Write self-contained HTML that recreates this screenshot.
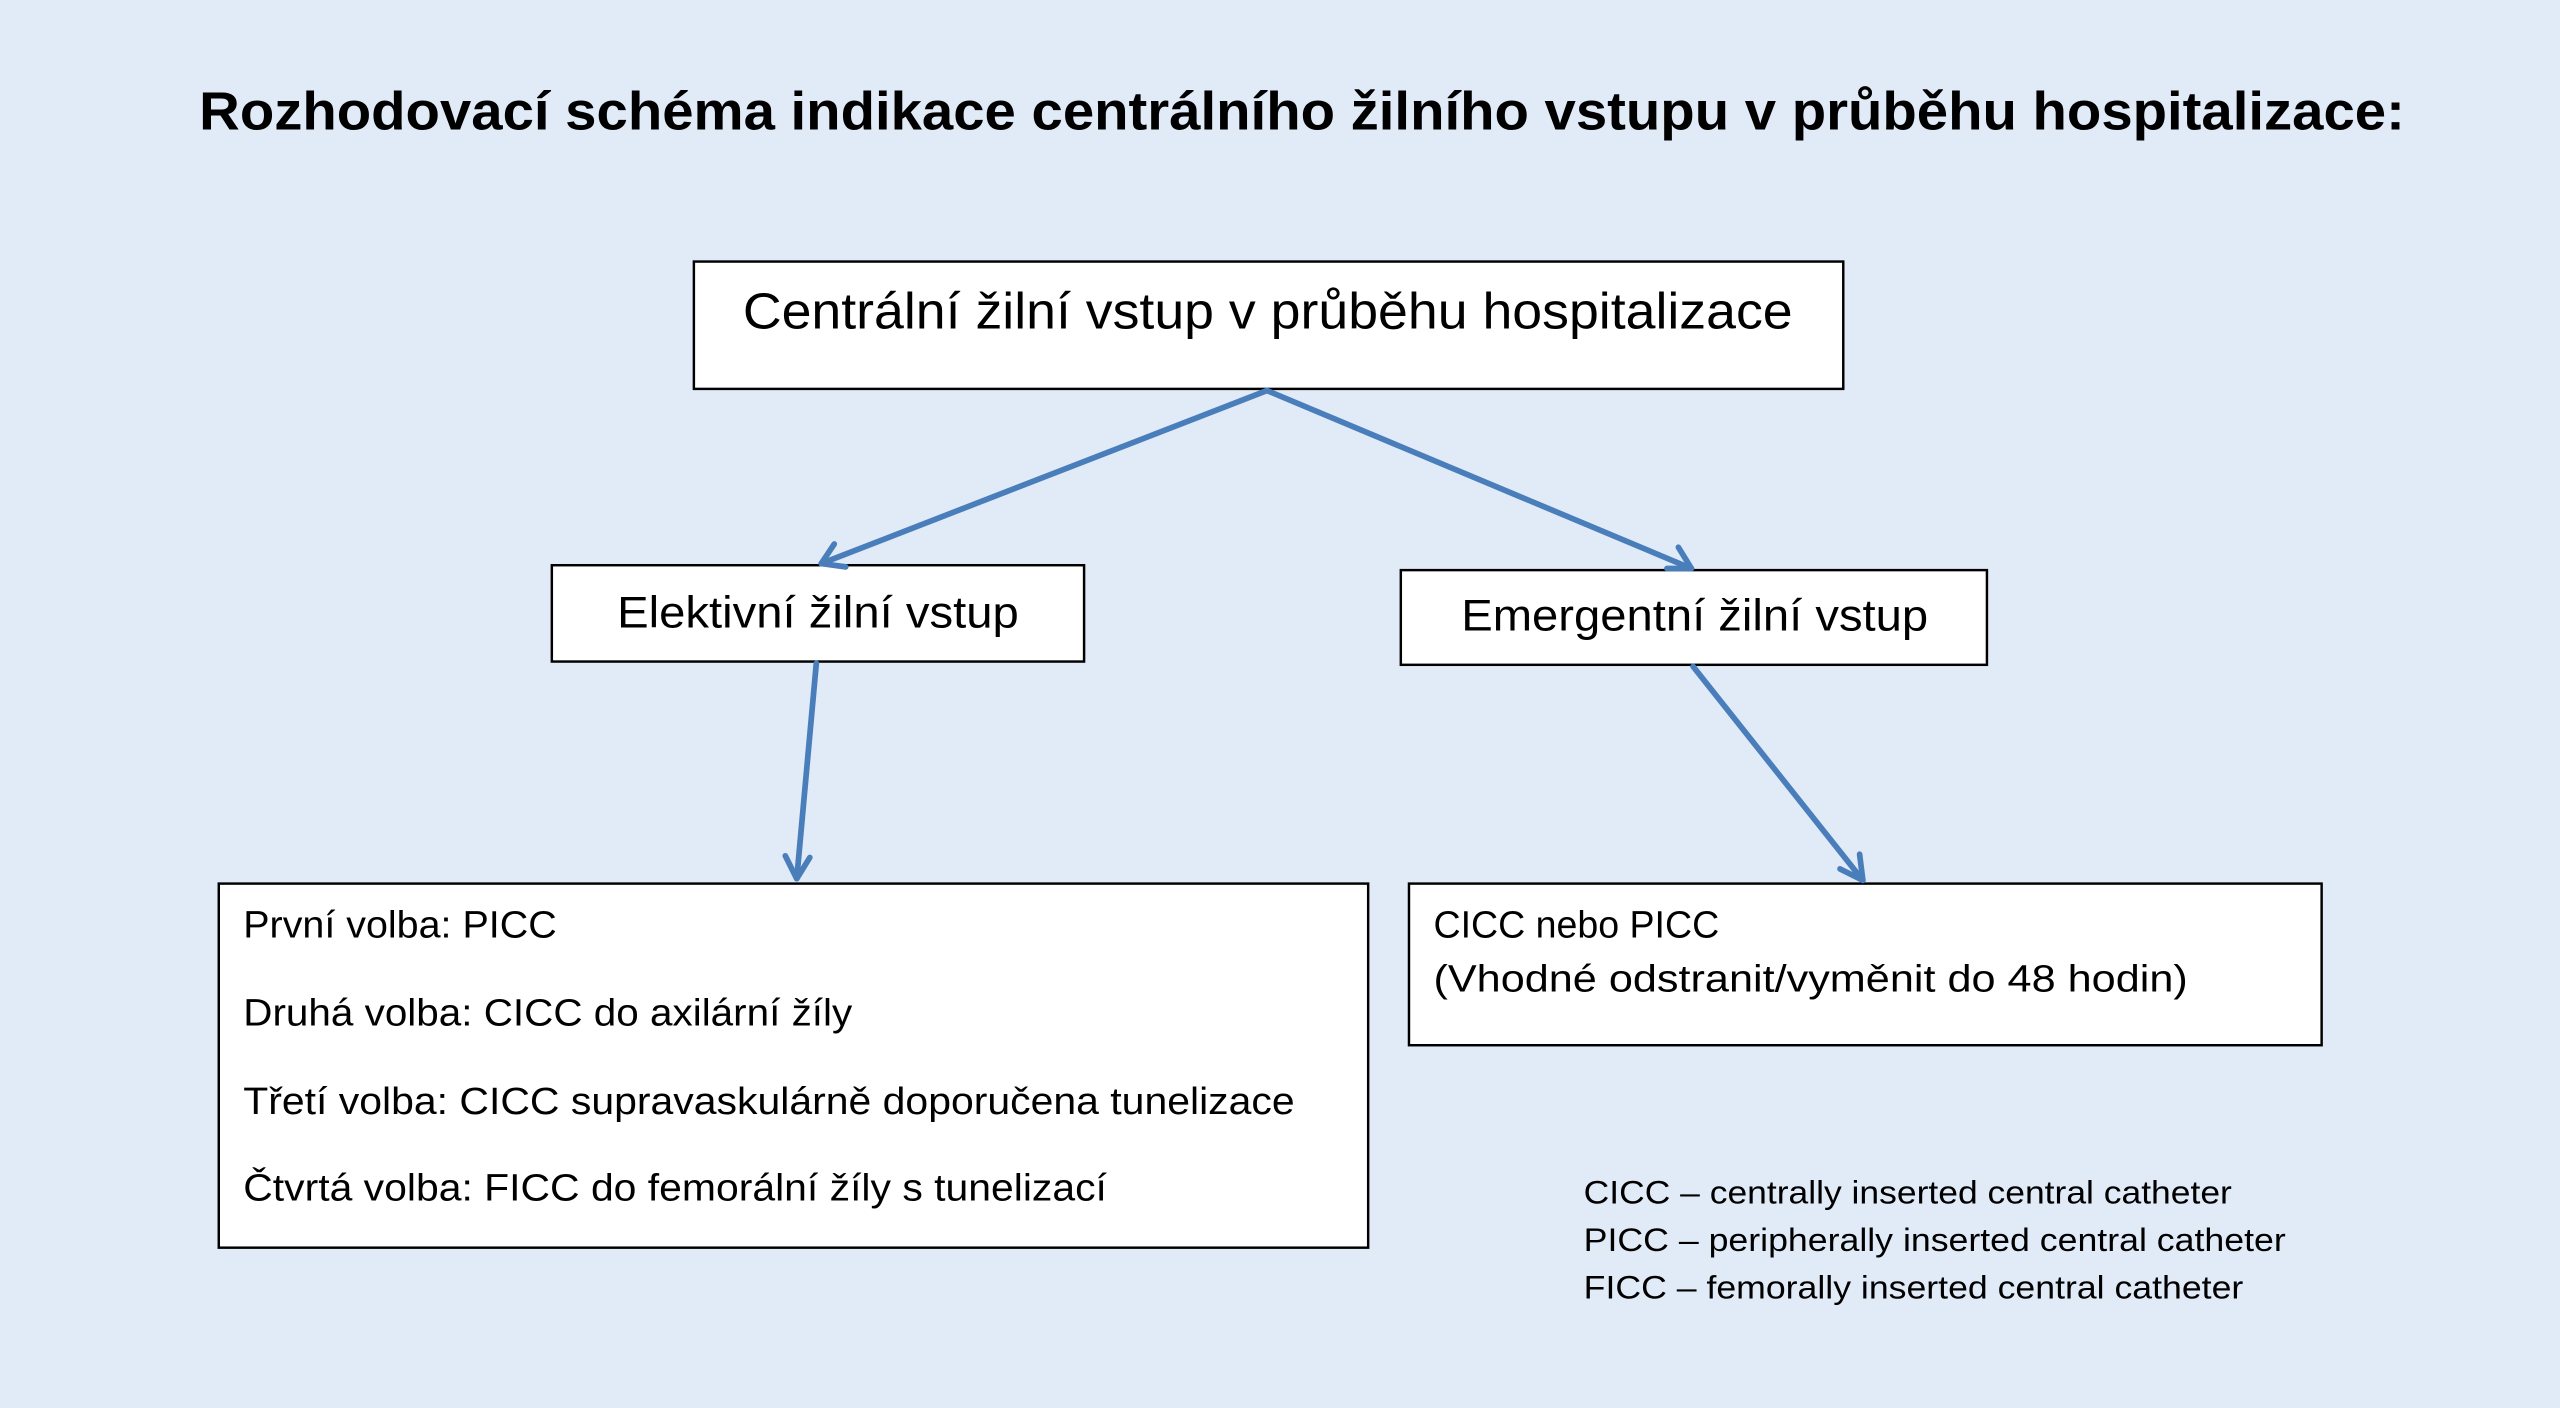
<!DOCTYPE html>
<html><head><meta charset="utf-8"><style>
html,body{margin:0;padding:0;background:#e1eaf7;}
svg{display:block}
text{font-family:"Liberation Sans","DejaVu Sans",sans-serif;fill:#000}
</style></head><body>
<svg width="2560" height="1408" viewBox="0 0 1568 862" xmlns="http://www.w3.org/2000/svg">
<rect width="1568" height="862" fill="#e1eaf7"/>
<text x="122" y="79" font-size="33" font-weight="bold" textLength="1351" lengthAdjust="spacingAndGlyphs">Rozhodovací schéma indikace centrálního žilního vstupu v průběhu hospitalizace:</text>
<g fill="#fff" stroke="#000" stroke-width="1.5">
<rect x="425" y="160" width="704" height="78"/>
<rect x="338" y="346" width="326" height="59"/>
<rect x="858" y="349" width="359" height="58"/>
<rect x="134" y="541" width="704" height="223"/>
<rect x="863" y="541" width="559" height="99"/>
</g>
<text x="455" y="201" font-size="31" textLength="643" lengthAdjust="spacingAndGlyphs">Centrální žilní vstup v průběhu hospitalizace</text>
<text x="378" y="384" font-size="27" textLength="246" lengthAdjust="spacingAndGlyphs">Elektivní žilní vstup</text>
<text x="895" y="386" font-size="27" textLength="286" lengthAdjust="spacingAndGlyphs">Emergentní žilní vstup</text>
<g font-size="23">
<text x="149" y="574" textLength="192" lengthAdjust="spacingAndGlyphs">První volba: PICC</text>
<text x="149" y="628" textLength="373" lengthAdjust="spacingAndGlyphs">Druhá volba: CICC do axilární žíly</text>
<text x="149" y="682" textLength="644" lengthAdjust="spacingAndGlyphs">Třetí volba: CICC supravaskulárně doporučena tunelizace</text>
<text x="149" y="735" textLength="529" lengthAdjust="spacingAndGlyphs">Čtvrtá volba: FICC do femorální žíly s tunelizací</text>
<text x="878" y="574" textLength="175" lengthAdjust="spacingAndGlyphs">CICC nebo PICC</text>
<text x="878" y="607" textLength="462" lengthAdjust="spacingAndGlyphs">(Vhodné odstranit/vyměnit do 48 hodin)</text>
</g>
<g font-size="20">
<text x="970" y="737" textLength="397" lengthAdjust="spacingAndGlyphs">CICC – centrally inserted central catheter</text>
<text x="970" y="766" textLength="430" lengthAdjust="spacingAndGlyphs">PICC – peripherally inserted central catheter</text>
<text x="970" y="795" textLength="404" lengthAdjust="spacingAndGlyphs">FICC – femorally inserted central catheter</text>
</g>
<g stroke="#4a7ebb" stroke-width="3.5" fill="none" stroke-linecap="round" stroke-linejoin="round">
<line x1="776" y1="239" x2="503" y2="345"/>
<polyline points="511,333 503,345 518,347"/>
<line x1="776" y1="239" x2="1036" y2="348"/>
<polyline points="1021,348 1036,348 1028,335"/>
<line x1="500" y1="406" x2="488" y2="538"/>
<polyline points="481,524 488,538 496,525"/>
<line x1="1037" y1="408" x2="1141" y2="539"/>
<polyline points="1127,532 1141,539 1139,523"/>
</g>
</svg>
</body></html>
